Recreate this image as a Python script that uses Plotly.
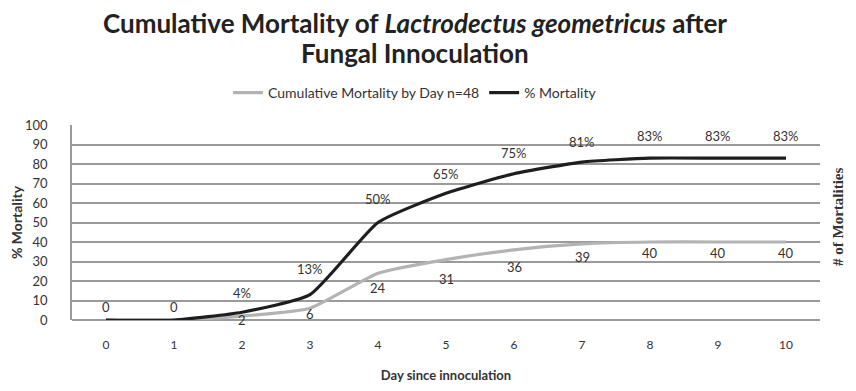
import plotly.graph_objects as go

days = [0, 1, 2, 3, 4, 5, 6, 7, 8, 9, 10]
cumulative_deaths = [0, 0, 2, 6, 24, 31, 36, 39, 40, 40, 40]
pct_mortality = [0, 0, 4, 13, 50, 65, 75, 81, 83, 83, 83]
y_ticks = [0, 10, 20, 30, 40, 50, 60, 70, 80, 90, 100]

# label vertical offsets in pixels (style only)
count_label_dy = [13, 13, -4, -6, -15, -19, -17, -13, -11, -11, -11]
pct_label_dy = [None, None, 19, 26, 24, 19, 21, 20, 22, 22, 22]

GRAY = "#b3b3b3"
BLACK = "#1e1e1e"
TXT = "#333333"
FONT = "Lato"

fig = go.Figure()
fig.add_trace(go.Scatter(
    x=days, y=cumulative_deaths, mode="lines",
    name="Cumulative Mortality by Day n=48",
    line=dict(color=GRAY, width=3.2, shape="spline", smoothing=0.5),
))
fig.add_trace(go.Scatter(
    x=days, y=pct_mortality, mode="lines",
    name="% Mortality",
    line=dict(color=BLACK, width=3.2, shape="spline", smoothing=0.5),
))

ann = []
for d, v, dy in zip(days, cumulative_deaths, count_label_dy):
    ann.append(dict(x=d, y=v, text=str(v), showarrow=False, yshift=dy,
                    font=dict(family=FONT, size=13, color=TXT)))
for d, v, dy in zip(days, pct_mortality, pct_label_dy):
    if dy is None:
        continue
    ann.append(dict(x=d, y=v, text=f"{v}%", showarrow=False, yshift=dy,
                    font=dict(family=FONT, size=13, color=TXT)))

# title (two lines)
ann.append(dict(xref="paper", yref="paper", x=0.4586, y=1.523, yanchor="middle",
                text="<b>Cumulative Mortality of <i>Lactrodectus geometricus</i> after</b>",
                showarrow=False, font=dict(family=FONT, size=26, color="#222222")))
ann.append(dict(xref="paper", yref="paper", x=0.4586, y=1.369, yanchor="middle",
                text="<b>Fungal Innoculation</b>",
                showarrow=False, font=dict(family=FONT, size=26, color="#222222")))
# secondary axis title
ann.append(dict(xref="paper", yref="paper", x=1.024, y=0.528,
                xanchor="center", yanchor="middle",
                text="<b># of Mortalities</b>", textangle=-90, showarrow=False,
                font=dict(family="Liberation Serif", size=15, color=TXT)))

fig.update_layout(
    width=840, height=375,
    margin=dict(l=64, r=28, t=117, b=63),
    paper_bgcolor="white", plot_bgcolor="white",
    legend=dict(
        orientation="h", x=0.4586, xanchor="center",
        y=1.164, yanchor="middle",
        font=dict(family=FONT, size=14, color=TXT),
        itemwidth=30, bgcolor="rgba(0,0,0,0)",
    ),
    showlegend=True,
    annotations=ann,
    xaxis=dict(
        range=[-0.5, 10.5], tickmode="array", tickvals=days,
        ticktext=[str(d) for d in days],
        showgrid=False, zeroline=False, showline=False, ticks="",
        automargin=False, ticklabelstandoff=16,
        tickfont=dict(family=FONT, size=12, color=TXT),
        title=dict(text="<b>Day since innoculation</b>", standoff=20,
                   font=dict(family=FONT, size=13, color=TXT)),
    ),
    yaxis=dict(
        range=[0, 100], tickmode="array", tickvals=y_ticks,
        showgrid=True, gridcolor="#9a9a9a", gridwidth=1.6,
        zeroline=True, zerolinecolor="#9a9a9a", zerolinewidth=1.6,
        showline=True, linecolor="#9a9a9a", linewidth=1.6,
        ticks="", automargin=False, ticklabelstandoff=20,
        tickfont=dict(family=FONT, size=13, color=TXT),
        title=dict(text="<b>% Mortality</b>", standoff=6,
                   font=dict(family=FONT, size=14, color=TXT)),
    ),
)

fig.write_html("out.html")
